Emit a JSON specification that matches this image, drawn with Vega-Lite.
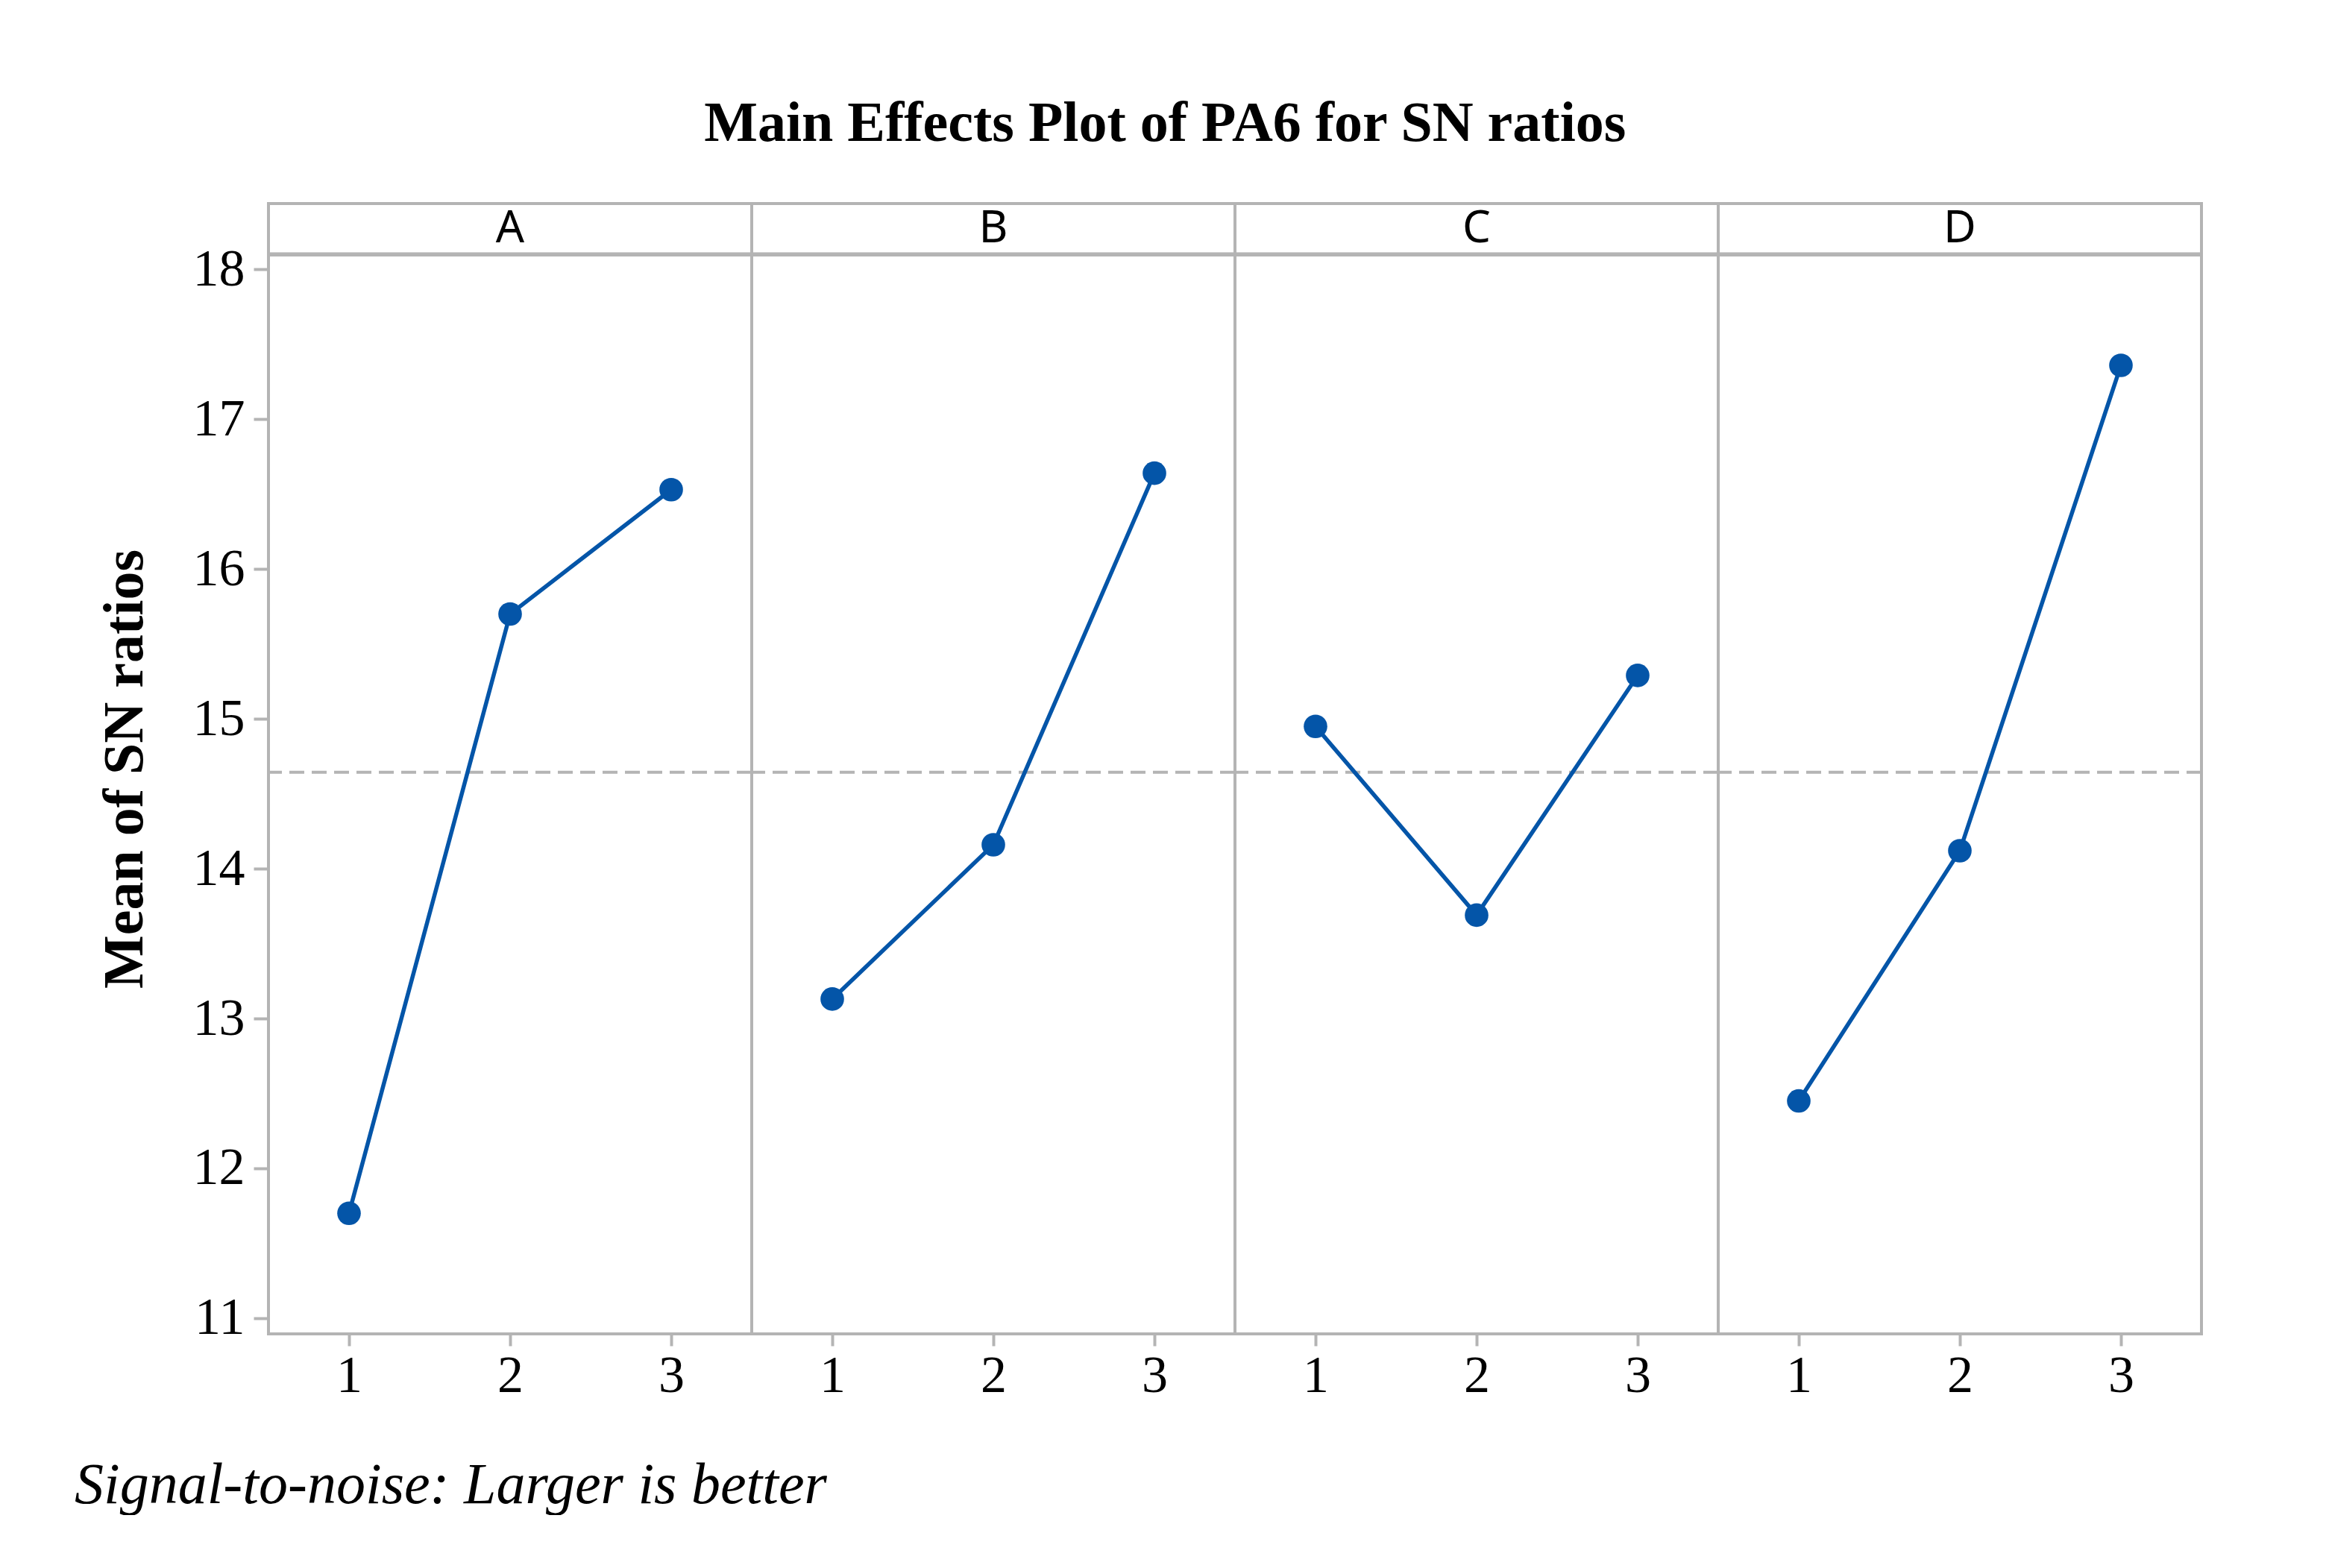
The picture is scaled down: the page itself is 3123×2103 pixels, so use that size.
{
  "$schema": "https://vega.github.io/schema/vega-lite/v6.json",
  "background": "white",
  "padding": {"left": 100, "top": 128, "right": 0, "bottom": 0},
  "title": {
    "text": "Main Effects Plot of PA6 for SN ratios",
    "anchor": "middle",
    "frame": "bounds",
    "font": "Liberation Serif",
    "fontSize": 76,
    "fontWeight": "bold",
    "color": "black",
    "offset": 6,
    "baseline": "alphabetic",
    "dx": 34
  },
  "data": {
    "values": [
      {"factor": "A", "level": 1, "sn": 11.70},
      {"factor": "A", "level": 2, "sn": 15.70},
      {"factor": "A", "level": 3, "sn": 16.53},
      {"factor": "B", "level": 1, "sn": 13.13},
      {"factor": "B", "level": 2, "sn": 14.16},
      {"factor": "B", "level": 3, "sn": 16.64},
      {"factor": "C", "level": 1, "sn": 14.95},
      {"factor": "C", "level": 2, "sn": 13.69},
      {"factor": "C", "level": 3, "sn": 15.29},
      {"factor": "D", "level": 1, "sn": 12.45},
      {"factor": "D", "level": 2, "sn": 14.12},
      {"factor": "D", "level": 3, "sn": 17.36}
    ]
  },
  "vconcat": [
    {
      "title": {
        "text": "Signal-to-noise: Larger is better",
        "orient": "bottom",
        "anchor": "start",
        "frame": "bounds",
        "font": "Liberation Serif",
        "fontStyle": "italic",
        "fontWeight": "normal",
        "fontSize": 78,
        "color": "black",
        "offset": 74,
        "baseline": "top",
        "dx": -29
      },
      "facet": {
        "column": {"field": "factor", "type": "nominal", "header": {"labels": false, "title": null}}
      },
      "spacing": {"column": 0, "row": 0},
      "bounds": "flush",
      "spec": {
        "width": 648,
        "height": 1516,
        "layer": [
          {
            "mark": {"type": "rule", "color": "#B4B4B4", "strokeWidth": 4, "strokeDash": [20, 10]},
            "encoding": {
              "y": {"aggregate": "mean", "field": "sn", "type": "quantitative"}
            }
          },
          {
            "mark": {"type": "line", "color": "#0455A8", "strokeWidth": 5.5},
            "encoding": {
              "x": {
                "field": "level", "type": "quantitative",
                "scale": {"domain": [0.5, 3.5], "nice": false, "zero": false},
                "axis": {"values": [1, 2, 3], "format": "d", "title": null}
              },
              "y": {
                "field": "sn", "type": "quantitative",
                "scale": {"domain": [10.895, 18.44], "nice": false, "zero": false},
                "axis": {"values": [11, 12, 13, 14, 15, 16, 17, 18], "format": "d", "title": "Mean of SN ratios"}
              }
            }
          },
          {
            "mark": {"type": "point", "filled": true, "opacity": 1, "size": 1000, "color": "#0455A8"},
            "encoding": {
              "x": {"field": "level", "type": "quantitative"},
              "y": {"field": "sn", "type": "quantitative"}
            }
          },
          {
            "mark": {"type": "rule", "color": "#B4B4B4", "strokeWidth": 5},
            "encoding": {"y": {"datum": 18.1}}
          },
          {
            "transform": [{"filter": "datum.level == 1"}],
            "mark": {"type": "text", "font": "Noto Sans", "fontSize": 60, "color": "black", "baseline": "middle", "align": "center"},
            "encoding": {
              "x": {"datum": 2},
              "y": {"datum": 18.27},
              "text": {"field": "factor"}
            }
          }
        ]
      }
    }
  ],
  "config": {
    "view": {"stroke": "#B4B4B4", "strokeWidth": 4},
    "facet": {"spacing": 0},
    "axis": {
      "grid": false,
      "domain": false,
      "tickColor": "#B4B4B4",
      "tickWidth": 4,
      "labelFont": "Liberation Serif",
      "labelFontSize": 70,
      "labelColor": "black",
      "titleFont": "Liberation Serif",
      "titleFontSize": 76,
      "titleFontWeight": "bold",
      "titleColor": "black"
    },
    "axisY": {"tickSize": 20, "labelPadding": 12, "titlePadding": 52},
    "axisX": {"tickSize": 16, "labelPadding": 6}
  }
}
